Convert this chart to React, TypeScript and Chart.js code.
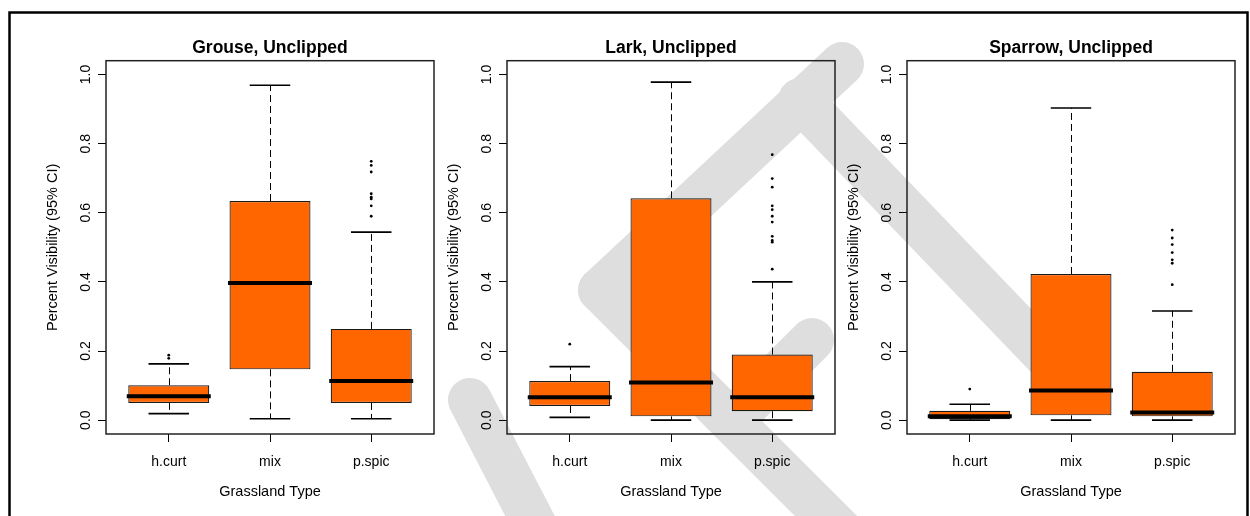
import React, { useEffect, useRef } from 'react';
import { Chart, registerables } from 'chart.js';

Chart.register(...registerables);

// ---------- data ----------
const categories = ['h.curt', 'mix', 'p.spic'];
const categoryPositions = [1, 2, 3];
const yTickValues = [0, 0.2, 0.4, 0.6, 0.8, 1.0];
const panelTitles = ['Grouse, Unclipped', 'Lark, Unclipped', 'Sparrow, Unclipped'];
const xAxisTitle = 'Grassland Type';
const yAxisTitle = 'Percent Visibility (95% CI)';

// each row: [lower whisker, Q1, median, Q3, upper whisker]
const grouseBoxes = [
  [0.019, 0.050, 0.069, 0.101, 0.163],
  [0.004, 0.147, 0.397, 0.634, 0.969],
  [0.004, 0.050, 0.113, 0.264, 0.544],
];
const grouseOutliers = [
  [0.179, 0.188],
  [],
  [0.590, 0.620, 0.640, 0.645, 0.655, 0.718, 0.737, 0.749],
];
const larkBoxes = [
  [0.008, 0.041, 0.066, 0.113, 0.155],
  [0.000, 0.011, 0.109, 0.642, 0.978],
  [0.000, 0.026, 0.066, 0.190, 0.400],
];
const larkOutliers = [
  [0.220],
  [],
  [0.437, 0.515, 0.520, 0.532, 0.573, 0.590, 0.609, 0.620, 0.674, 0.699, 0.768],
];
const sparrowBoxes = [
  [0.000, 0.003, 0.011, 0.027, 0.046],
  [0.000, 0.014, 0.086, 0.423, 0.903],
  [0.000, 0.011, 0.022, 0.140, 0.316],
];
const sparrowOutliers = [
  [0.090],
  [],
  [0.392, 0.454, 0.464, 0.485, 0.508, 0.527, 0.550],
];

const panelBoxes = [grouseBoxes, larkBoxes, sparrowBoxes];
const panelOutliers = [grouseOutliers, larkOutliers, sparrowOutliers];

// ---------- layout / style ----------
const FONT = "'Liberation Sans', Arial, Helvetica, sans-serif";
const BOX_FILL = '#FF6600';
const PLOT_LEFTS = [106, 507, 907];
const AXIS_W = 96;
const CANVAS_W = 430;
const CANVAS_H = 516;

const boxplotExtras = {
  id: 'boxplotExtras',
  afterDatasetsDraw(chart: any, _args: any, opts: any) {
    const { ctx, chartArea, scales } = chart;
    const y = scales.y;
    const boxes: number[][] = opts.boxes || [];
    const meta = chart.getDatasetMeta(0);
    ctx.save();
    ctx.strokeStyle = '#000';
    meta.data.forEach((bar: any, i: number) => {
      const s = boxes[i];
      if (!s) return;
      const [lo, q1, med, q3, hi] = s;
      const cx = Math.round(bar.x) + 0.5;
      const w = bar.width;
      // whiskers (dashed), from box edge outwards
      ctx.lineWidth = 1;
      ctx.setLineDash([7, 4]);
      ctx.beginPath();
      ctx.moveTo(cx, y.getPixelForValue(q3));
      ctx.lineTo(cx, y.getPixelForValue(hi));
      ctx.moveTo(cx, y.getPixelForValue(q1));
      ctx.lineTo(cx, y.getPixelForValue(lo));
      ctx.stroke();
      ctx.setLineDash([]);
      // staples
      ctx.lineWidth = 1.6;
      ctx.beginPath();
      ctx.moveTo(bar.x - w / 4, y.getPixelForValue(hi));
      ctx.lineTo(bar.x + w / 4, y.getPixelForValue(hi));
      ctx.moveTo(bar.x - w / 4, y.getPixelForValue(lo));
      ctx.lineTo(bar.x + w / 4, y.getPixelForValue(lo));
      ctx.stroke();
      // median
      ctx.lineWidth = 4;
      ctx.beginPath();
      ctx.moveTo(bar.x - w / 2 - 1.5, y.getPixelForValue(med));
      ctx.lineTo(bar.x + w / 2 + 1.5, y.getPixelForValue(med));
      ctx.stroke();
    });
    // plot frame
    ctx.lineWidth = 1.5;
    ctx.strokeStyle = '#222';
    ctx.strokeRect(chartArea.left, chartArea.top, chartArea.right - chartArea.left, chartArea.bottom - chartArea.top);
    ctx.restore();
  },
};

function makeConfig(i: number): any {
  const boxes = panelBoxes[i];
  const outliers = panelOutliers[i];
  const boxData = categoryPositions.map((x, k) => ({ x, y: [boxes[k][1], boxes[k][3]] }));
  const outlierData: { x: number; y: number }[] = [];
  outliers.forEach((list, k) => list.forEach((v) => outlierData.push({ x: categoryPositions[k], y: v })));
  const tickFont = { family: FONT, size: 14 };
  const titleFont = { family: FONT, size: 14.5 };
  return {
    type: 'bar',
    data: {
      datasets: [
        {
          type: 'bar',
          data: boxData,
          backgroundColor: BOX_FILL,
          borderColor: '#1a1a1a',
          borderWidth: 1.2,
          borderSkipped: false,
          barPercentage: 1,
          categoryPercentage: 0.8,
          order: 2,
        },
        {
          type: 'scatter',
          data: outlierData,
          pointRadius: 1.4,
          pointBackgroundColor: '#000',
          pointBorderWidth: 0,
          showLine: false,
          order: 1,
        },
      ],
    },
    options: {
      responsive: false,
      animation: false,
      events: [],
      layout: { padding: { left: 0, right: CANVAS_W - AXIS_W - 328, top: 0, bottom: 0 } },
      scales: {
        x: {
          type: 'linear',
          offset: false,
          min: 0.38,
          max: 3.62,
          afterBuildTicks: (s: any) => {
            s.ticks = categoryPositions.map((v) => ({ value: v }));
          },
          afterFit: (s: any) => {
            s.height = 82;
          },
          ticks: {
            callback: (v: number) => categories[categoryPositions.indexOf(v)],
            font: tickFont,
            color: '#000',
            padding: 11.5,
            maxRotation: 0,
            autoSkip: false,
          },
          grid: { offset: false, drawOnChartArea: false, drawTicks: true, tickLength: 8, color: '#000', lineWidth: 1 },
          border: { display: false },
          title: {
            display: true,
            text: xAxisTitle,
            font: titleFont,
            color: '#000',
            padding: { top: 0, bottom: 15.6 },
          },
        },
        y: {
          type: 'linear',
          min: -0.04,
          max: 1.04,
          afterBuildTicks: (s: any) => {
            s.ticks = yTickValues.map((v) => ({ value: v }));
          },
          afterFit: (s: any) => {
            s.width = AXIS_W;
          },
          ticks: {
            callback: (v: number) => v.toFixed(1),
            font: tickFont,
            color: '#000',
            minRotation: 90,
            maxRotation: 90,
            crossAlign: 'center',
            padding: 2.4,
            autoSkip: false,
          },
          grid: { drawOnChartArea: false, drawTicks: true, tickLength: 8, color: '#000', lineWidth: 1 },
          border: { display: false },
          title: {
            display: true,
            text: yAxisTitle,
            font: titleFont,
            color: '#000',
            padding: { top: 34.3, bottom: 0 },
          },
        },
      },
      plugins: {
        legend: { display: false },
        tooltip: { enabled: false },
        title: {
          display: true,
          text: panelTitles[i],
          fullSize: false,
          color: '#000',
          font: { family: FONT, size: 17.5, weight: 'bold' },
          padding: { top: 37.7, bottom: 2 },
        },
        boxplotExtras: { boxes },
      },
    },
    plugins: [boxplotExtras],
  };
}

function drawBackground(canvas: HTMLCanvasElement) {
  const c = canvas.getContext('2d');
  if (!c) return;
  c.clearRect(0, 0, canvas.width, canvas.height);
  // faint diagonal watermark strokes
  c.save();
  c.strokeStyle = '#dedede';
  c.lineCap = 'round';
  c.lineWidth = 44;
  const strokes = [
    [600, 290, 842, 64],
    [600, 290, 880, 570],
    [731, 421, 812, 340],
    [800, 100, 1045, 355],
    [470, 400, 545, 545],
  ];
  strokes.forEach(([x1, y1, x2, y2]) => {
    c.beginPath();
    c.moveTo(x1, y1);
    c.lineTo(x2, y2);
    c.stroke();
  });
  c.restore();
  // outer frame
  c.save();
  c.strokeStyle = '#000';
  c.lineWidth = 2.5;
  c.strokeRect(9.5, 12.5, 1238, 520);
  c.restore();
}

export default function App() {
  const bgRef = useRef<HTMLCanvasElement>(null);
  const r0 = useRef<HTMLCanvasElement>(null);
  const r1 = useRef<HTMLCanvasElement>(null);
  const r2 = useRef<HTMLCanvasElement>(null);
  const refs = [r0, r1, r2];

  useEffect(() => {
    if (bgRef.current) drawBackground(bgRef.current);
    const charts = refs.map((r, i) => new Chart(r.current as HTMLCanvasElement, makeConfig(i)));
    return () => charts.forEach((ch) => ch.destroy());
  }, []);

  return (
    <div style={{ position: 'fixed', left: 0, top: 0, width: 1250, height: 516, background: '#fff', overflow: 'hidden' }}>
      <canvas ref={bgRef} width={1250} height={516} style={{ position: 'absolute', left: 0, top: 0 }} />
      {refs.map((r, i) => (
        <canvas
          key={i}
          ref={r}
          width={CANVAS_W}
          height={CANVAS_H}
          style={{ position: 'absolute', left: PLOT_LEFTS[i] - AXIS_W, top: 0, width: CANVAS_W, height: CANVAS_H }}
        />
      ))}
    </div>
  );
}
